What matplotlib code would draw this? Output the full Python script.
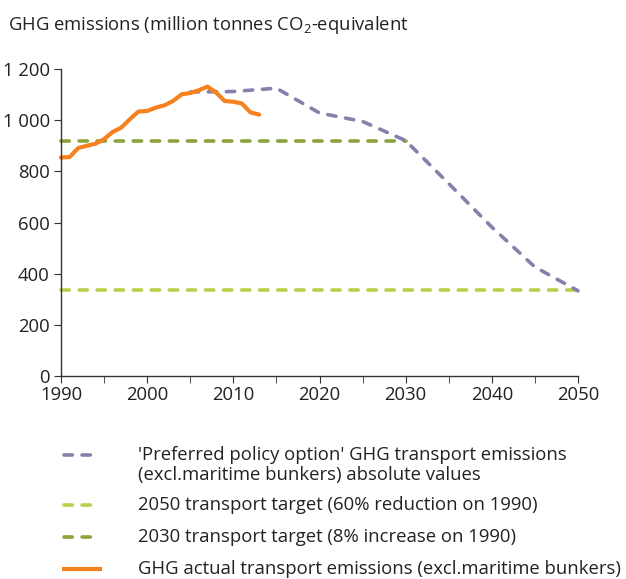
import matplotlib.pyplot as plt
from matplotlib.lines import Line2D

plt.rcParams['font.family'] = ['Open Sans', 'DejaVu Sans']
plt.rcParams['mathtext.fontset'] = 'custom'
plt.rcParams['mathtext.rm'] = 'Open Sans'
plt.rcParams['mathtext.it'] = 'Open Sans'

# data
years_actual = list(range(1990, 2014))
actual = [854, 856, 891, 900, 908, 926, 954, 971, 1004, 1034, 1036, 1049,
          1058, 1075, 1101, 1106, 1117, 1131, 1108, 1075, 1072, 1065, 1030, 1022]

years_policy = [2005, 2010, 2015, 2020, 2025, 2030, 2035, 2040, 2045, 2050]
policy = [1110, 1112, 1125, 1028, 995, 920, 752, 582, 426, 333]

target_2030_years = [1990, 2030]
target_2030 = [920, 920]
target_2050_years = [1990, 2050]
target_2050 = [335, 335]

c_policy = '#8282aa'
c_2050 = '#bad04a'
c_2030 = '#8ba33c'
c_actual = '#f5821f'
dash = (2.3, 2.7)
fs = 13.3

fig = plt.figure(figsize=(6.26, 5.79), dpi=100)
ax = fig.add_axes([61/626, 1 - 376/579, 517/626, 307/579])

ax.plot(target_2050_years, target_2050, color=c_2050, lw=2.6, dashes=dash,
        dash_capstyle='round', clip_on=False)
ax.plot(target_2030_years, target_2030, color=c_2030, lw=2.6, dashes=dash,
        dash_capstyle='round', clip_on=False)
ax.plot(years_policy, policy, color=c_policy, lw=2.6, dashes=dash,
        dash_capstyle='round', solid_joinstyle='round', clip_on=False)
ax.plot(years_actual, actual, color=c_actual, lw=3, solid_capstyle='round',
        solid_joinstyle='round', clip_on=False)

ax.set_xlim(1990, 2050)
ax.set_ylim(0, 1200)
ax.set_xticks(range(1990, 2051, 10))
ax.set_xticks(range(1990, 2051, 5), minor=True)
ax.set_yticks(range(0, 1201, 200))
ax.set_yticklabels(['0', '200', '400', '600', '800', '1 000', '1 200'])
for s in ['top', 'right']:
    ax.spines[s].set_visible(False)
for s in ['left', 'bottom']:
    ax.spines[s].set_color('#333333')
    ax.spines[s].set_linewidth(1)
ax.tick_params(axis='both', which='both', direction='out', length=5,
               color='#333333', labelsize=fs, labelcolor='#222222')
ax.tick_params(axis='x', pad=2)
ax.tick_params(axis='y', pad=3)

fig.text(8/626, 1 - 25/579, 'GHG emissions (million tonnes CO$_2$-equivalent',
         fontsize=fs, color='#222222', va='center')

# legend drawn by hand
entries = [
    (c_policy, dash, "'Preferred policy option' GHG transport emissions\n(excl.maritime bunkers) absolute values", 455, 465),
    (c_2050, dash, '2050 transport target (60% reduction on 1990)', 505, 505),
    (c_2030, dash, '2030 transport target (8% increase on 1990)', 537, 537),
    (c_actual, None, 'GHG actual transport emissions (excl.maritime bunkers)', 569, 569),
]
for color, d, label, ly, ty in entries:
    y = 1 - ly/579
    if d is None:
        ln = Line2D([62/626, 102/626], [y, y], color=color, lw=3,
                    solid_capstyle='butt', transform=fig.transFigure)
    else:
        ln = Line2D([64/626, 100/626], [y, y], color=color, lw=2.6, dashes=dash,
                    dash_capstyle='round', transform=fig.transFigure)
    fig.add_artist(ln)
    fig.text(138/626, 1 - ty/579, label, fontsize=fs, color='#222222',
             va='center', linespacing=1.2)

fig.savefig('out.png', dpi=100)
